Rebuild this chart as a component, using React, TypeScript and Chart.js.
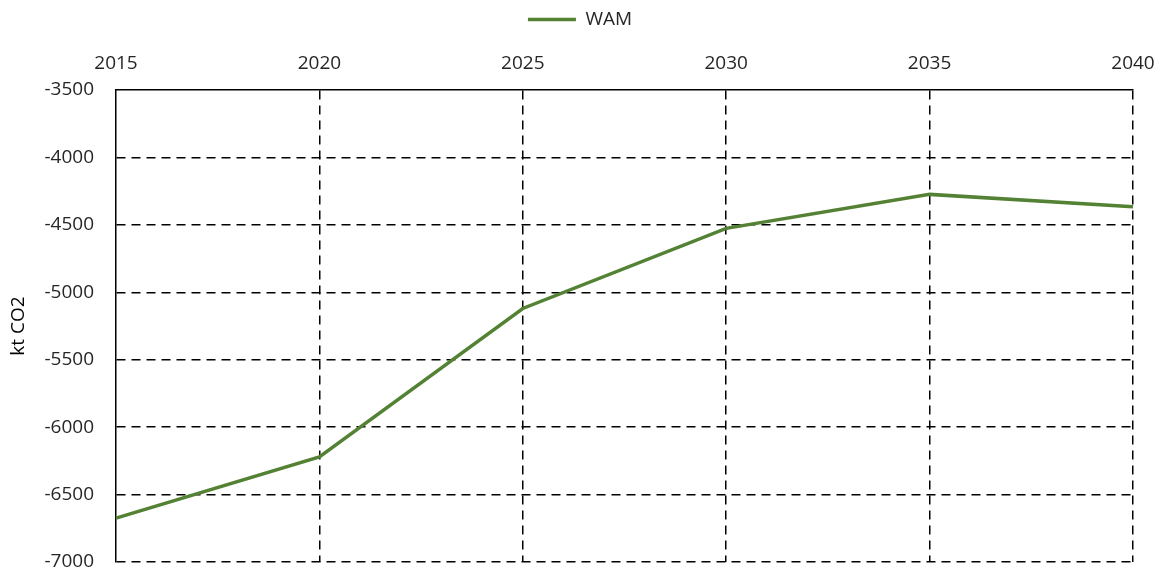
import React, { useEffect, useRef } from "react";
import { Chart, registerables } from "chart.js";

Chart.register(...registerables);

const years: string[] = ["2015", "2020", "2025", "2030", "2035", "2040"];
const wamValues: number[] = [-6675, -6220, -5120, -4526, -4274, -4366];
const seriesLabel = "WAM";
const yTitle = "kt CO2";
const yMin = -7000;
const yMax = -3500;
const yStep = 500;

const FONT = "'Open Sans', sans-serif";
const TEXT = "#262626";
const GREEN = "#548235";

export default function App() {
  const ref = useRef<HTMLCanvasElement | null>(null);
  useEffect(() => {
    if (!ref.current) return;
    const chart = new Chart(ref.current, {
      type: "line",
      data: {
        labels: years,
        datasets: [
          {
            label: seriesLabel,
            data: wamValues,
            borderColor: GREEN,
            backgroundColor: GREEN,
            borderWidth: 3.5,
            pointRadius: 0,
            pointHoverRadius: 0,
            tension: 0,
            fill: false,
          },
        ],
      },
      options: {
        animation: false,
        responsive: true,
        maintainAspectRatio: false,
        layout: { padding: { left: 0, right: 0, top: 0, bottom: 6 } },
        plugins: {
          tooltip: { enabled: false },
          legend: {
            display: true,
            position: "top",
            labels: {
              usePointStyle: true,
              pointStyle: "line",
              pointStyleWidth: 48,
              color: TEXT,
              font: { family: FONT, size: 19 },
              padding: 10,
            },
          },
        },
        scales: {
          x: {
            type: "category",
            position: "top",
            offset: false,
            grid: {
              display: true,
              offset: false,
              color: (ctx: any) => (ctx.index === 0 ? "rgba(0,0,0,0)" : "#000"),
              lineWidth: 1.5,
              drawTicks: false,
            },
            border: { display: true, color: "#000", width: 1.5, dash: [9, 6] },
            ticks: {
              color: TEXT,
              font: { family: FONT, size: 19 },
              padding: 15,
              maxRotation: 0,
              autoSkip: false,
            },
            afterFit: (scale: any) => {
              scale.height = 51;
              scale.paddingLeft = 0;
              scale.paddingRight = 27;
            },
          },
          y: {
            type: "linear",
            position: "left",
            min: yMin,
            max: yMax,
            grid: {
              display: true,
              color: (ctx: any) =>
                ctx.tick && ctx.tick.value === yMax ? "rgba(0,0,0,0)" : "#000",
              lineWidth: 1.5,
              drawTicks: false,
            },
            border: { display: true, color: "#000", width: 1.5, dash: [9, 6] },
            ticks: {
              stepSize: yStep,
              color: TEXT,
              font: { family: FONT, size: 19 },
              padding: 22,
              callback: (v: any) => String(v),
            },
            title: {
              display: true,
              text: yTitle,
              color: "#000",
              font: { family: FONT, size: 19 },
              padding: { top: 7, bottom: 0 },
            },
            afterFit: (scale: any) => {
              scale.width = 116;
              scale.paddingTop = 0;
              scale.paddingBottom = 0;
            },
          },
        },
      },
    });
    return () => chart.destroy();
  }, []);

  return (
    <div style={{ position: "absolute", left: 0, top: 0, width: 1160, height: 568, background: "#fff" }}>
      <canvas ref={ref} />
    </div>
  );
}
